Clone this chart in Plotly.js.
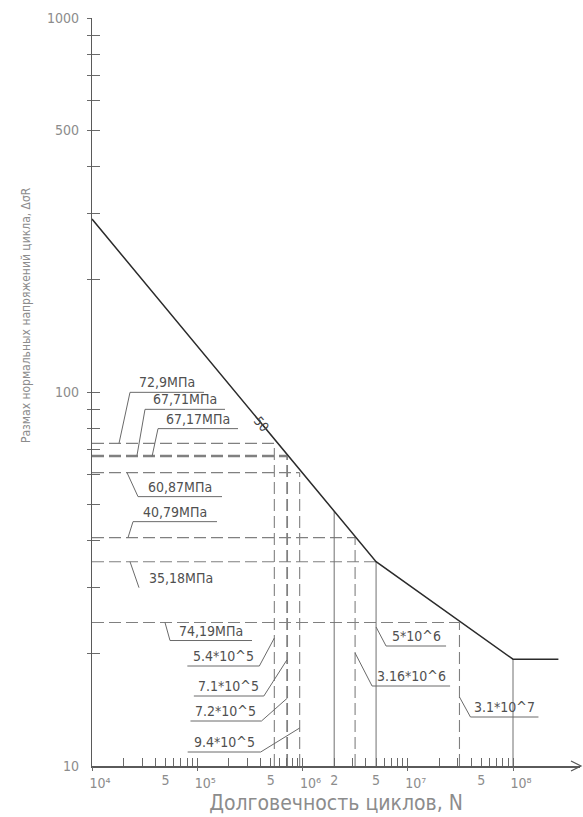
<!DOCTYPE html>
<html><head><meta charset="utf-8">
<script src="https://cdn.plot.ly/plotly-3.0.1.min.js"></script>
<style>html,body{margin:0;padding:0;background:#fff}</style>
</head><body><div id="chart" style="width:583px;height:817px"></div>
<script>
// ---------- data ----------
const curveN = [1e4, 5e6, 1e8, 2.7e8];
const curveS = [290, 35.18, 19.3, 19.3];
const levelS = [72.9, 67.71, 67.17, 60.87, 40.79, 35.18, 24.19];
const levelN = [5.4e5, 7.1e5, 7.2e5, 9.4e5, 3.16e6, 5e6, 3.1e7];
const levelText = ["72,9МПа", "67,71МПа", "67,17МПа", "60,87МПа", "40,79МПа", "35,18МПа", "74,19МПа"];
const cycleText = ["5.4*10^5", "7.1*10^5", "7.2*10^5", "9.4*10^5", "3.16*10^6", "5*10^6", "3.1*10^7"];
const refN = [2e6, 5e6, 1e8];
const refS = [48, 35.18, 19.3];
const xPowTicks = [1e4, 1e5, 1e6, 1e7, 1e8];
const xPowLabels = ["10⁴", "10⁵", "10⁶", "10⁷", "10⁸"];
const xDigitTicks = [5e4, 5e5, 2e6, 5e6, 5e7];
const xDigitLabels = ["5", "5", "2", "5", "5"];
const yLabelTicks = [10, 100, 500, 1000];
const yLabelText = ["10", "100", "500", "1000"];
const markText = "50";
const xTitle = "Долговечность циклов, N";
const yTitle = "Размах нормальных напряжений цикла, ΔσR";

// ---------- layout geometry ----------
const W = 583, H = 817;
const ML = 92, MT = 18, PW = 488, PH = 748;
const XR = [4, 4 + 488 / 105.25];
const YR = [1, 3];
const pxX = N => ML + PW * (Math.log10(N) - XR[0]) / (XR[1] - XR[0]);
const pxY = S => MT + PH * (YR[1] - Math.log10(S)) / (YR[1] - YR[0]);
const pX = px => (px - ML) / PW;
const pY = py => 1 - (py - MT) / PH;

const FONT = "'Liberation Sans Narrow', 'DejaVu Sans Condensed', 'Roboto Condensed', Roboto, sans-serif";
const LBL = {family: FONT, size: 14, color: '#505050'};
const GREY = '#8c8c8c';

// minor tick positions
const xMinor = [], yMinor = [];
for (let e = 4; e < 8; e++) for (let m = 1; m <= 9; m++) xMinor.push(m * Math.pow(10, e));
xMinor.push(1e8);
for (let e = 1; e < 3; e++) for (let m = (e === 1 ? 2 : 1); m <= 9; m++) yMinor.push(m * Math.pow(10, e));
yMinor.push(1000);

// ---------- traces ----------
const yBottom = Math.pow(10, YR[0]);
const xLeft = Math.pow(10, XR[0]);
const hx = [], hy = [];
levelS.forEach((s, i) => { hx.push(xLeft, levelN[i], null); hy.push(s, s, null); });
const vx = [], vy = [];
levelN.forEach((n, i) => { if (!refN.includes(n)) { vx.push(n, n, null); vy.push(yBottom, levelS[i], null); } });
const sx = [], sy = [];
refN.forEach((n, i) => { sx.push(n, n, null); sy.push(yBottom, refS[i], null); });

const dashStyle = {color: '#808080', width: 1.1, dash: '12px,5px'};
const ghost = {mode: 'markers', marker: {opacity: 0}, hoverinfo: 'skip', showlegend: false};
const traces = [
  {x: hx, y: hy, mode: 'lines', line: dashStyle, hoverinfo: 'skip', showlegend: false, connectgaps: false},
  {x: vx, y: vy, mode: 'lines', line: dashStyle, hoverinfo: 'skip', showlegend: false, connectgaps: false},
  {x: sx, y: sy, mode: 'lines', line: {color: '#707070', width: 1}, hoverinfo: 'skip', showlegend: false, connectgaps: false},
  {x: curveN, y: curveS, mode: 'lines', line: {color: '#2b2b2b', width: 1.5}, hoverinfo: 'skip', showlegend: false},
  Object.assign({x: [curveN[0]], y: [curveS[0]], xaxis: 'x2', yaxis: 'y2'}, ghost),
  Object.assign({x: [curveN[0]], y: [curveS[0]], xaxis: 'x3', yaxis: 'y3'}, ghost)
];

// ---------- leaders & labels ----------
const shapes = [], annotations = [];
const lc = {color: '#6a6a6a', width: 1};
function seg(x0, y0, x1, y1) {
  shapes.push({type: 'line', xref: 'paper', yref: 'paper', x0: pX(x0), y0: pY(y0), x1: pX(x1), y1: pY(y1), line: lc});
}
function txt(cx, by, t) {
  annotations.push({xref: 'paper', yref: 'paper', x: pX(cx), y: pY(by), xanchor: 'center', yanchor: 'bottom',
    text: t, showarrow: false, font: LBL, borderpad: 0});
}
// stress labels: [foot x px, knee dx, knee dy, underline length]
const stressLeader = [[119, 11, -51, 74], [137, 8, -46, 80], [152, 6, -28, 80], [127, 11, 24, 84],
  [128, 5, -16, 84], [130, 9, 26, 0], [165, 5, 18, 82]];
levelS.forEach((s, i) => {
  const [fx, dx, dy, ul] = stressLeader[i];
  const fy = pxY(s), kx = fx + dx, ky = fy + dy;
  seg(fx, fy, kx, ky);
  if (ul) seg(kx, ky, kx + ul, ky);
  txt(kx + (ul ? ul / 2 : 42), ky - 1, levelText[i]);
});
// cycle labels: [foot y px, knee dx, knee dy, underline length (signed)]
const cycleLeader = [[638, -15, 28, -72], [660, -23, 36, -70], [698, -26, 23, -71], [728, -39, 24, -73],
  [653, 17, 33, 78], [627, 10, 19, 60], [697, 11, 20, 68]];
levelN.forEach((n, i) => {
  const [fy, dx, dy, ul] = cycleLeader[i];
  const fx = pxX(n), kx = fx + dx, ky = fy + dy;
  seg(fx, fy, kx, ky);
  seg(kx, ky, kx + ul, ky);
  txt(kx + ul / 2, ky - 1, cycleText[i]);
});
// x axis arrow
shapes.push({type: 'path', xref: 'paper', yref: 'paper',
  path: `M ${pX(571)} ${pY(761)} L ${pX(581)} ${pY(766)} L ${pX(571)} ${pY(771)}`,
  line: {color: '#555', width: 1.2}});

// mark on curve
annotations.push({x: Math.log10(4.1e5), y: Math.log10(82), xref: 'x', yref: 'y', text: markText, showarrow: false,
  textangle: 50, font: {family: FONT, size: 13, color: '#444'}});
// y title
annotations.push({xref: 'paper', yref: 'paper', x: pX(26), y: pY(315), text: yTitle, textangle: -90, showarrow: false,
  xanchor: 'center', yanchor: 'middle', font: {family: FONT, size: 12, color: GREY}});

const axisBase = {type: 'log', showgrid: false, zeroline: false, fixedrange: true, tickmode: 'array', tickcolor: '#6a6a6a', tickwidth: 1};
const layout = {
  width: W, height: H, margin: {l: ML, r: W - ML - PW, t: MT, b: H - MT - PH},
  paper_bgcolor: '#fff', plot_bgcolor: 'rgba(0,0,0,0)', showlegend: false,
  xaxis: Object.assign({}, axisBase, {range: XR, showline: true, linecolor: '#5a5a5a', linewidth: 1.5,
    ticks: 'inside', ticklen: 8, tickvals: xMinor, showticklabels: false}),
  xaxis2: Object.assign({}, axisBase, {range: XR, overlaying: 'x', anchor: 'y', side: 'bottom', showline: false,
    ticks: 'outside', ticklen: 4, tickvals: xPowTicks, ticktext: xPowLabels,
    ticklabelshift: 8, tickfont: {family: FONT, size: 14, color: GREY},
    title: {text: xTitle, font: {family: FONT, size: 21, color: GREY}, standoff: 4}}),
  xaxis3: Object.assign({}, axisBase, {range: XR, overlaying: 'x', anchor: 'y', side: 'bottom', showline: false,
    ticks: '', tickvals: xDigitTicks, ticktext: xDigitLabels, ticklabelstandoff: 4,
    tickfont: {family: FONT, size: 14, color: GREY}}),
  yaxis: Object.assign({}, axisBase, {range: YR, showline: true, linecolor: '#5a5a5a', linewidth: 1.5,
    ticks: 'inside', ticklen: 8, tickvals: yMinor, showticklabels: false}),
  yaxis2: Object.assign({}, axisBase, {range: YR, overlaying: 'y', anchor: 'x', side: 'left', showline: false,
    ticks: 'outside', ticklen: 4, tickvals: yMinor, showticklabels: false}),
  yaxis3: Object.assign({}, axisBase, {range: YR, overlaying: 'y', anchor: 'x', side: 'left', showline: false,
    ticks: '', tickvals: yLabelTicks, ticktext: yLabelText, ticklabelstandoff: 12,
    tickfont: {family: FONT, size: 14, color: GREY}}),
  shapes: shapes, annotations: annotations
};
Plotly.newPlot('chart', traces, layout, {staticPlot: true, displayModeBar: false});
</script></body></html>
